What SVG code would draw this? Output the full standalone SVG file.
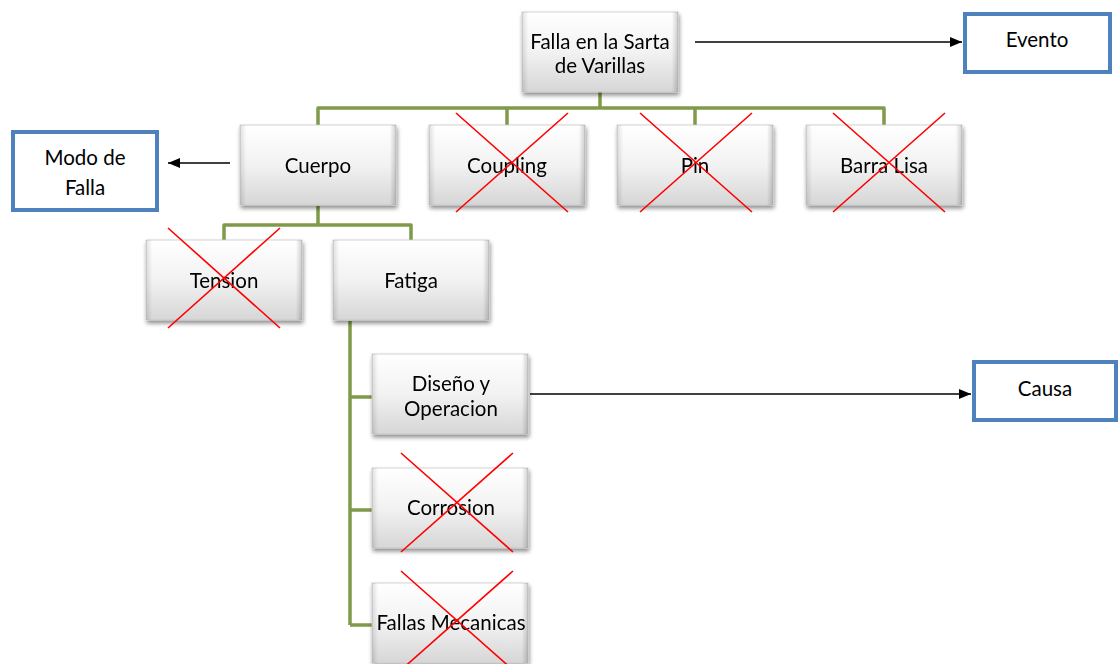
<svg xmlns="http://www.w3.org/2000/svg" width="1118" height="664" viewBox="0 0 1118 664">
  <defs>
    <linearGradient id="boxFill" x1="0" y1="0" x2="0" y2="1">
      <stop offset="0" stop-color="#ffffff"/>
      <stop offset="0.5" stop-color="#f2f2f2"/>
      <stop offset="1" stop-color="#d6d6d6"/>
    </linearGradient>
    <linearGradient id="edgeShade" x1="0" y1="0" x2="1" y2="0">
      <stop offset="0" stop-color="#000" stop-opacity="0.12"/>
      <stop offset="0.04" stop-color="#000" stop-opacity="0"/>
      <stop offset="0.96" stop-color="#000" stop-opacity="0"/>
      <stop offset="1" stop-color="#000" stop-opacity="0.18"/>
    </linearGradient>
    <filter id="shadow" x="-10%" y="-10%" width="125%" height="130%">
      <feGaussianBlur in="SourceAlpha" stdDeviation="2"/>
      <feOffset dx="1" dy="3" result="b"/>
      <feComponentTransfer><feFuncA type="linear" slope="0.45"/></feComponentTransfer>
      <feMerge><feMergeNode/><feMergeNode in="SourceGraphic"/></feMerge>
    </filter>
    <marker id="arrow" markerWidth="12" markerHeight="10" refX="12" refY="5" orient="auto" markerUnits="userSpaceOnUse">
      <path d="M0,0 L12,5 L0,10 Z" fill="#000"/>
    </marker>
    <g id="box">
      <rect width="156" height="80" fill="url(#boxFill)" stroke="#c8c8c8" stroke-width="0.8"/>
      <rect width="156" height="80" fill="url(#edgeShade)"/>
    </g>
  </defs>
  <style>
    text { font-family: Lato, "Open Sans", "Liberation Sans", sans-serif; font-size: 20.5px; fill: #000; text-anchor: middle; }
    .tree { fill: none; stroke: #7f9a48; stroke-width: 3.5; stroke-linejoin: round; }
    .arrow { fill: none; stroke: #000; stroke-width: 1.4; marker-end: url(#arrow); }
    .label { fill: #fff; stroke: #4f81bd; stroke-width: 4; }
    .cross { stroke: #ff0000; stroke-width: 1.6; }
  </style>

  <!-- hierarchy connectors and label arrows -->
  <g id="connectors">
    <path class="tree" d="M600,92 V108 M318,125 V108 H884 V125 M507,108 V125 M695,108 V125"/>
    <path class="tree" d="M318,206 V225 M224,240 V225 H411 V240"/>
    <path class="tree" d="M350,321 V625 M350,397 H372 M350,510 H372 M350,625 H372"/>
    <line class="arrow" x1="695" y1="42" x2="962" y2="42"/>
    <line class="arrow" x1="230" y1="163" x2="168" y2="163"/>
    <line class="arrow" x1="530" y1="394" x2="971" y2="394"/>
  </g>

  <g id="root" filter="url(#shadow)">
    <use href="#box" x="522" y="12"/>
    <text x="600" y="49">Falla en la Sarta</text>
    <text x="600" y="73">de Varillas</text>
  </g>

  <g id="cuerpo" filter="url(#shadow)">
    <use href="#box" x="240" y="125"/>
    <text x="318" y="173">Cuerpo</text>
  </g>

  <g id="coupling">
    <g filter="url(#shadow)">
      <use href="#box" x="429" y="125"/>
      <text x="507" y="173">Coupling</text>
    </g>
    <path class="cross" d="M456,113 L568,212 M568,113 L456,212"/>
  </g>

  <g id="pin">
    <g filter="url(#shadow)">
      <use href="#box" x="617" y="125"/>
      <text x="695" y="173">Pin</text>
    </g>
    <path class="cross" d="M640,113 L752,212 M752,113 L640,212"/>
  </g>

  <g id="barra-lisa">
    <g filter="url(#shadow)">
      <use href="#box" x="806" y="125"/>
      <text x="884" y="173">Barra Lisa</text>
    </g>
    <path class="cross" d="M833,113 L945,212 M945,113 L833,212"/>
  </g>

  <g id="tension">
    <g filter="url(#shadow)">
      <use href="#box" x="146" y="240"/>
      <text x="224" y="288">Tension</text>
    </g>
    <path class="cross" d="M168,228 L280,328 M280,228 L168,328"/>
  </g>

  <g id="fatiga" filter="url(#shadow)">
    <use href="#box" x="333" y="240"/>
    <text x="411" y="288">Fatiga</text>
  </g>

  <g id="diseno" filter="url(#shadow)">
    <use href="#box" x="372" y="354"/>
    <text x="451" y="391">Diseño y</text>
    <text x="451" y="416">Operacion</text>
  </g>

  <g id="corrosion">
    <g filter="url(#shadow)">
      <use href="#box" x="372" y="468"/>
      <text x="451" y="515">Corrosion</text>
    </g>
    <path class="cross" d="M401,453 L513,552 M513,453 L401,552"/>
  </g>

  <g id="fallas-mecanicas">
    <g filter="url(#shadow)">
      <use href="#box" x="372" y="583"/>
      <text x="451" y="630">Fallas Mecanicas</text>
    </g>
    <path class="cross" d="M401,571 L513,670 M513,571 L401,670"/>
  </g>

  <g id="evento">
    <rect class="label" x="965" y="14" width="145" height="58"/>
    <text x="1037" y="47">Evento</text>
  </g>

  <g id="modo-de-falla">
    <rect class="label" x="13" y="132" width="144" height="78"/>
    <text x="85" y="165">Modo de</text>
    <text x="85" y="195">Falla</text>
  </g>

  <g id="causa">
    <rect class="label" x="974" y="362" width="142" height="58"/>
    <text x="1045" y="396">Causa</text>
  </g>
</svg>
